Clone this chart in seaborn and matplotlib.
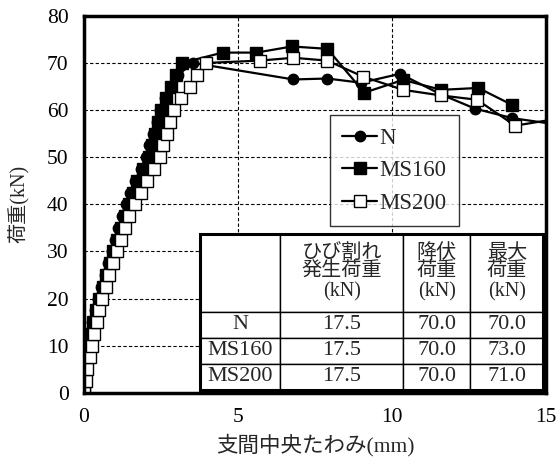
import matplotlib
matplotlib.use("Agg")
import matplotlib.pyplot as plt
import seaborn as sns
import pandas as pd
from matplotlib.table import Table
from matplotlib.patches import Rectangle

sns.set_theme(style="white")
FAM = ['Liberation Serif', 'Noto Sans CJK JP']
plt.rcParams['font.family'] = FAM

# ---- data ----
loads_up = [0, 2.5, 5, 7.5, 10, 12.5, 15, 17.5, 20, 22.5, 25, 27.5, 30, 32.5, 35,
            37.5, 40, 42.5, 45, 47.5, 50, 52.5, 55, 57.5, 60, 62.5, 65, 67.5, 70]
n_defl_up = [0, 0.02, 0.04, 0.08, 0.12, 0.18, 0.26, 0.35, 0.45, 0.56, 0.67, 0.78, 0.90,
             1.01, 1.12, 1.23, 1.35, 1.50, 1.66, 1.84, 2.00, 2.12, 2.24, 2.36, 2.48,
             2.64, 2.82, 3.05, 3.55]
ms160_defl_up = [0, 0.03, 0.06, 0.10, 0.15, 0.21, 0.29, 0.39, 0.50, 0.61, 0.72, 0.83, 0.95,
                 1.07, 1.19, 1.32, 1.45, 1.58, 1.72, 1.90, 2.10, 2.20, 2.30, 2.40, 2.50,
                 2.66, 2.82, 3.00, 3.17]
ms200_defl_up = [0, 0.05, 0.11, 0.18, 0.26, 0.33, 0.41, 0.50, 0.60, 0.71, 0.82, 0.94, 1.07,
                 1.20, 1.33, 1.46, 1.65, 1.85, 2.05, 2.26, 2.47, 2.58, 2.69, 2.80, 2.92,
                 3.15, 3.44, 3.67, 3.96]

n_defl_post = [6.8, 7.9, 9.0, 10.26, 11.6, 12.7, 13.9, 15.5]
n_load_post = [66.5, 66.7, 65.8, 67.7, 63.3, 60.3, 58.3, 56.8]
ms160_defl_post = [4.5, 5.6, 6.75, 7.9, 9.1, 10.36, 11.6, 12.8, 13.9]
ms160_load_post = [72.2, 72.2, 73.5, 73.0, 63.7, 66.4, 64.3, 64.7, 61.1]
ms200_defl_post = [5.7, 6.8, 7.9, 9.06, 10.36, 11.6, 12.76, 14.0, 15.5]
ms200_load_post = [70.5, 71.1, 70.5, 67.1, 64.3, 63.1, 62.2, 56.7, 58.3]

series_names = ["N", "MS160", "MS200"]
table_cols = ["", "ひび割れ\n発生荷重\n(kN)", "降伏\n荷重\n(kN)", "最大\n荷重\n(kN)"]
crack_load = ["17.5", "17.5", "17.5"]
yield_load = ["70.0", "70.0", "70.0"]
max_load = ["70.0", "73.0", "71.0"]

xticks = [0, 5, 10, 15]
yticks = [0, 10, 20, 30, 40, 50, 60, 70, 80]

# ---- figure ----
fig = plt.figure(figsize=(5.6, 4.66), dpi=100)
ax = fig.add_axes([0.15, 0.157, 0.825, 0.809])

styles = {
    "N": dict(marker="o", markersize=7.5, markerfacecolor="black"),
    "MS160": dict(marker="s", markersize=9, markerfacecolor="black"),
    "MS200": dict(marker="s", markersize=9, markerfacecolor="white"),
}
data = {
    "N": (n_defl_up + n_defl_post, loads_up + n_load_post),
    "MS160": (ms160_defl_up + ms160_defl_post, loads_up + ms160_load_post),
    "MS200": (ms200_defl_up + ms200_defl_post, loads_up + ms200_load_post),
}
for i, name in enumerate(series_names):
    xs, ys = data[name]
    df = pd.DataFrame({"x": xs, "y": ys})
    sns.lineplot(data=df, x="x", y="y", sort=False, estimator=None, ax=ax,
                 color="black", linewidth=1.6, markeredgecolor="black",
                 markeredgewidth=1.0, label=name, zorder=3 + i, **styles[name])

ax.set_xlim(0, 15)
ax.set_ylim(0, 80)
ax.set_xticks(xticks)
ax.set_yticks(yticks)
ax.tick_params(axis="both", length=0, labelsize=15.5, colors="black")
ax.tick_params(axis="x", pad=11)
ax.tick_params(axis="y", pad=11)
for lab in ax.get_xticklabels() + ax.get_yticklabels():
    lab.set_family(FAM)
ax.set_xlabel("支間中央たわみ(mm)", fontsize=15.5, family=FAM, labelpad=5)
ax.set_ylabel("荷重(kN)", fontsize=14.5, family=FAM, labelpad=12)
ax.grid(True, color="black", linestyle=(0, (3, 2)), linewidth=0.8)
for sp in ax.spines.values():
    sp.set_color("black")
    sp.set_linewidth(2.5)
    sp.set_zorder(10)

leg = ax.legend(loc="upper left", bbox_to_anchor=(0.532, 0.737), frameon=True,
                fancybox=False, edgecolor="black", fontsize=16.5, handlelength=1.5,
                handletextpad=0.1, borderpad=0.55, labelspacing=0.5,
                borderaxespad=0)
leg.get_frame().set_linewidth(1.0)
leg.set_zorder(20)
for t in leg.get_texts():
    t.set_family(FAM)

# ---- table ----
tx0, ty0 = 0.251, 0.008
col_w = [0.174, 0.266, 0.145, 0.158]
head_h = 0.207
row_h = 0.069
tbl = Table(ax, bbox=None)
tbl.auto_set_font_size(False)
rows = [table_cols] + [[series_names[i], crack_load[i], yield_load[i], max_load[i]]
                       for i in range(3)]
for r, row in enumerate(rows):
    for c, txt in enumerate(row):
        h = head_h if r == 0 else row_h
        cell = tbl.add_cell(r, c, width=col_w[c], height=h, text=txt, loc="center",
                            facecolor="white", edgecolor="black")
        cell.set_linewidth(1.0)
        cell.get_text().set_fontsize(16 if r > 0 else 14.5)
        cell.get_text().set_family(FAM)
        cell.get_text().set_linespacing(1.0)
        cell.PAD = 0.02
tot_w = sum(col_w)
tot_h = head_h + 3 * row_h
tbl._bbox = [tx0, ty0, tot_w, tot_h]
tbl.set_zorder(15)
ax.add_table(tbl)
ax.add_patch(Rectangle((tx0, ty0), tot_w, tot_h, transform=ax.transAxes,
                       fill=False, edgecolor="black", linewidth=2.2, zorder=16,
                       clip_on=False))

fig.savefig("out.png", dpi=100)
